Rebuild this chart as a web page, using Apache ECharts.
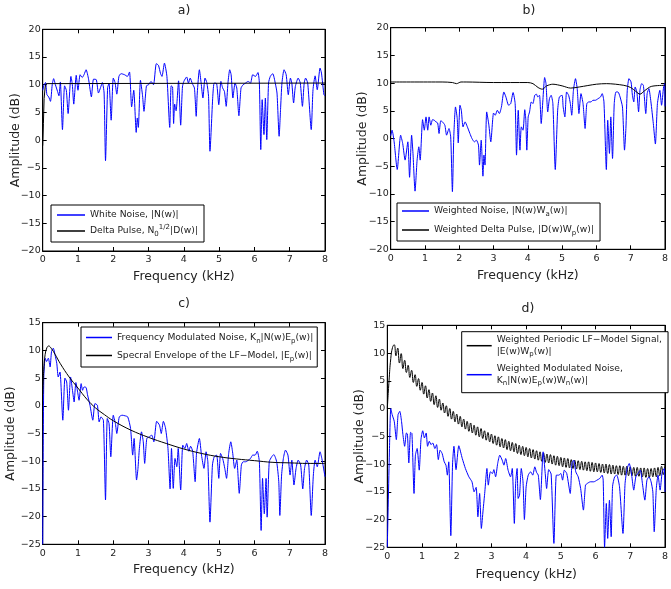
<!DOCTYPE html>
<html><head><meta charset="utf-8">
<script src="https://cdn.jsdelivr.net/npm/echarts@6/dist/echarts.min.js"></script>
<style>html,body{margin:0;padding:0;background:#fff;overflow:hidden}#c{width:671px;height:589px}</style>
</head><body><div id="c"></div>
<script>
// ---------- a) ----------
const aFreq = [0.00,0.04,0.08,0.12,0.17,0.22,0.27,0.31,0.36,0.42,0.46,0.50,0.56,0.62,0.67,0.72,0.80,0.84,0.88,0.95,1.00,1.06,1.12,1.17,1.23,1.30,1.38,1.44,1.52,1.58,1.64,1.69,1.74,1.78,1.84,1.88,1.94,2.00,2.05,2.10,2.16,2.22,2.32,2.40,2.46,2.52,2.58,2.65,2.68,2.71,2.77,2.83,2.87,2.94,3.00,3.07,3.14,3.22,3.28,3.34,3.38,3.45,3.52,3.60,3.64,3.68,3.71,3.74,3.78,3.85,3.91,3.96,4.00,4.08,4.13,4.18,4.24,4.30,4.35,4.38,4.44,4.49,4.54,4.60,4.65,4.70,4.74,4.82,4.86,4.93,4.99,5.05,5.10,5.15,5.20,5.25,5.30,5.34,5.39,5.45,5.50,5.56,5.62,5.68,5.75,5.82,5.89,5.95,6.03,6.10,6.14,6.18,6.22,6.27,6.31,6.35,6.40,6.45,6.52,6.59,6.64,6.70,6.74,6.78,6.84,6.90,6.96,7.02,7.06,7.11,7.16,7.24,7.30,7.36,7.41,7.45,7.51,7.61,7.66,7.72,7.78,7.86,7.90,7.97,8.00];
const aNoise = [9.0,10.0,10.4,8.2,7.8,7.0,10.0,11.1,10.0,8.8,8.0,10.5,1.9,9.8,9.0,4.8,11.5,10.0,6.5,11.7,9.0,11.8,11.3,11.8,12.7,11.0,7.8,11.0,10.9,8.5,9.5,10.4,8.5,-3.7,9.5,10.2,3.6,11.2,10.4,8.3,11.5,12.0,11.8,11.5,12.3,6.0,9.0,1.4,4.0,2.3,10.8,8.0,5.2,9.8,10.0,10.6,10.0,13.8,13.5,12.0,11.5,13.9,11.5,2.3,9.8,9.6,3.0,6.5,5.3,10.7,2.7,9.6,10.6,11.4,10.3,11.2,10.2,9.4,4.3,8.5,12.7,10.3,7.6,11.2,10.4,7.9,-2.0,7.9,10.3,10.2,6.4,10.6,9.4,8.8,6.1,10.3,12.7,11.8,7.6,10.3,9.4,4.4,9.4,10.0,10.3,10.6,10.3,11.8,11.5,12.2,10.3,-1.7,7.3,1.0,7.6,0.1,10.3,11.5,12.0,10.3,8.5,0.7,5.5,10.3,12.7,11.8,8.2,11.2,10.3,6.7,9.7,11.2,10.3,6.1,10.3,11.2,10.3,1.9,9.1,11.6,9.1,13.0,12.1,8.2,8.0];
const aPulseFreq = [0,0.02,0.04,0.07,0.10,0.15,8];
const aPulse = [-1.0,3.0,7.5,9.6,10.2,10.3,10.3];

// ---------- b) ----------
const bFreq = [0.00,0.04,0.10,0.19,0.29,0.35,0.42,0.50,0.55,0.61,0.65,0.71,0.77,0.82,0.86,0.93,0.98,1.03,1.08,1.12,1.17,1.22,1.27,1.32,1.37,1.41,1.46,1.51,1.58,1.63,1.70,1.75,1.80,1.84,1.89,1.94,1.97,2.02,2.06,2.11,2.17,2.23,2.31,2.37,2.44,2.50,2.56,2.59,2.64,2.69,2.72,2.75,2.80,2.86,2.92,3.00,3.05,3.11,3.17,3.23,3.30,3.36,3.44,3.50,3.57,3.63,3.67,3.72,3.77,3.81,3.86,3.91,3.94,3.97,4.01,4.05,4.10,4.15,4.20,4.25,4.29,4.34,4.39,4.44,4.49,4.53,4.58,4.63,4.68,4.73,4.80,4.87,4.92,5.00,5.03,5.08,5.13,5.19,5.24,5.28,5.33,5.39,5.44,5.49,5.55,5.61,5.67,5.72,5.78,5.84,5.90,5.97,6.05,6.12,6.17,6.22,6.29,6.33,6.38,6.42,6.47,6.52,6.57,6.63,6.69,6.76,6.82,6.86,6.90,6.95,7.01,7.05,7.09,7.13,7.18,7.23,7.27,7.32,7.37,7.44,7.48,7.53,7.59,7.66,7.72,7.78,7.85,7.90,7.96,7.99,8.00];
const bNoise = [0.5,1.5,-0.6,-5.6,0.6,-0.9,-3.9,-0.6,-7.0,0.6,-2.7,-9.5,-3.9,-1.5,-3.9,3.4,1.5,3.9,1.5,3.9,2.4,3.4,3.3,3.0,2.8,0.9,3.2,3.0,2.4,0.6,1.8,0.3,-9.6,0.3,5.7,3.6,-0.8,6.0,5.1,2.1,3.0,2.2,0.9,0.0,-0.6,-0.3,-1.2,-4.8,-0.3,-6.8,-3.0,-4.8,4.8,2.6,-0.6,4.6,4.2,5.1,4.5,5.7,8.4,7.5,6.0,6.3,8.3,6.3,-3.0,5.1,-2.1,2.1,1.5,5.2,3.5,-2.1,3.9,4.8,6.6,6.3,7.8,8.0,7.5,7.8,2.7,7.0,11.0,9.9,4.8,7.2,7.8,6.3,-5.6,5.1,7.5,7.8,5.7,3.9,8.4,7.8,6.3,4.2,8.7,10.8,9.0,4.5,8.1,6.3,1.8,6.3,6.6,6.6,6.9,6.9,7.2,7.5,8.1,6.6,-5.6,3.3,-2.7,3.9,-3.6,6.3,8.4,8.4,7.5,5.7,-2.1,1.8,8.7,10.8,10.2,7.8,6.6,9.3,8.4,4.8,8.7,9.9,9.6,4.5,8.1,9.0,6.6,2.7,-1.0,6.3,8.7,6.0,9.3,9.9,5.8];
const bPulseFreq = [0,1.5,1.8,1.92,2.05,2.2,3.0,4.0,4.15,4.3,4.42,4.55,4.73,5.0,5.25,5.5,6.0,6.3,6.8,7.0,7.15,7.27,7.4,7.6,8.0];
const bPulse = [10.2,10.2,10.1,9.9,10.2,10.2,10.1,10.1,9.9,9.2,8.9,9.5,9.8,9.5,9.1,9.3,9.8,9.9,9.6,9.2,8.5,8.0,8.6,9.4,9.6];

// ---------- c) ----------
const cFreq = [0.00,0.03,0.07,0.11,0.16,0.21,0.25,0.30,0.35,0.40,0.44,0.49,0.57,0.63,0.68,0.73,0.79,0.85,0.89,0.94,0.99,1.03,1.09,1.13,1.17,1.23,1.27,1.34,1.42,1.48,1.55,1.60,1.65,1.72,1.78,1.83,1.88,1.93,2.00,2.06,2.10,2.17,2.25,2.33,2.41,2.49,2.55,2.59,2.66,2.70,2.74,2.80,2.85,2.89,2.95,3.02,3.09,3.15,3.23,3.31,3.36,3.42,3.48,3.55,3.61,3.65,3.70,3.75,3.80,3.84,3.91,3.97,4.03,4.08,4.14,4.19,4.25,4.32,4.36,4.44,4.50,4.57,4.63,4.68,4.74,4.81,4.86,4.93,4.99,5.04,5.10,5.16,5.21,5.27,5.33,5.38,5.44,5.50,5.57,5.63,5.68,5.76,5.83,5.89,5.95,6.02,6.08,6.14,6.19,6.23,6.28,6.33,6.36,6.42,6.49,6.55,6.63,6.69,6.72,6.77,6.82,6.88,6.95,7.01,7.06,7.12,7.18,7.24,7.31,7.37,7.42,7.48,7.54,7.61,7.67,7.72,7.78,7.86,7.91,8.00];
const cNoise = [-25,5.0,8.6,8.0,8.6,7.0,9.8,10.4,9.2,7.6,5.2,6.1,-2.6,5.0,4.3,-0.8,5.2,2.5,0.7,4.2,2.5,1.0,4.0,2.8,3.4,3.3,2.0,0.1,-2.6,0.4,0.1,-2.9,-2.0,-2.6,-17.0,-2.3,-3.2,-9.2,-1.7,-3.2,-5.0,-2.0,-1.7,-1.8,-2.0,-4.1,-8.9,-5.9,-13.4,-11.3,-7.7,-4.7,-6.5,-10.4,-5.9,-5.6,-5.3,-6.5,-2.8,-3.5,-5.0,-2.8,-4.0,-7.7,-15.0,-7.7,-14.9,-9.5,-11.0,-7.7,-15.2,-7.1,-7.7,-6.8,-8.2,-7.3,-8.2,-13.7,-8.5,-5.9,-8.9,-11.3,-8.3,-10.1,-21.0,-10.7,-9.2,-8.9,-13.1,-8.6,-9.5,-11.3,-13.1,-8.6,-6.5,-8.3,-11.3,-9.8,-15.8,-10.7,-10.1,-10.1,-9.8,-9.5,-8.9,-8.9,-8.2,-10.1,-22.5,-13.1,-19.5,-13.1,-20.1,-10.1,-9.2,-8.8,-10.1,-13.7,-19.8,-12.5,-9.5,-8.0,-8.9,-12.5,-9.8,-14.3,-11.3,-9.8,-10.7,-15.0,-11.3,-9.8,-10.7,-19.8,-12.5,-9.8,-11.0,-8.3,-9.5,-12.8];
const cEnvFreq = [0,0.03,0.07,0.12,0.17,0.25,0.35,0.5,0.75,1.0,1.25,1.5,1.75,2.0,2.5,3.0,3.5,4.0,4.5,5.0,5.5,6.0,6.5,7.0,7.5,8.0];
const cEnv = [2.0,6.5,9.3,10.5,10.8,10.3,9.3,7.6,5.2,3.2,1.2,-0.4,-1.6,-2.7,-4.4,-5.7,-6.8,-7.8,-8.6,-9.2,-9.6,-9.9,-10.2,-10.3,-10.4,-10.4];

// ---------- d) ----------
const dSigHead = [0.0,5.0,9.0,11.0];
const dSigTail = [11.5,9.5,10.9,8.2,9.9,7.2,8.7,6.5,7.8,5.6,6.9,4.7,6.1,4.0,5.4,3.3,4.7,2.6,4.1,1.9,3.4,1.3,2.8,0.7,2.3,0.2,1.7,-0.3,1.0,-0.8,0.5,-1.4,0.0,-1.9,-0.5,-2.4,-1.0,-2.8,-1.4,-3.3,-1.9,-3.7,-2.3,-4.1,-2.6,-4.4,-3.0,-4.8,-3.3,-5.1,-3.6,-5.4,-4.0,-5.7,-4.3,-6.0,-4.6,-6.3,-4.9,-6.6,-5.1,-6.9,-5.4,-7.1,-5.6,-7.4,-5.9,-7.6,-6.1,-7.8,-6.3,-8.1,-6.6,-8.3,-6.8,-8.5,-7.0,-8.7,-7.2,-8.9,-7.4,-9.1,-7.6,-9.3,-7.8,-9.5,-8.0,-9.7,-8.2,-9.8,-8.3,-10.0,-8.5,-10.2,-8.6,-10.3,-8.8,-10.5,-8.9,-10.6,-9.0,-10.7,-9.2,-10.8,-9.3,-10.9,-9.4,-11.0,-9.5,-11.1,-9.6,-11.2,-9.6,-11.3,-9.7,-11.4,-9.8,-11.4,-9.9,-11.5,-10.0,-11.6,-10.0,-11.7,-10.1,-11.8,-10.2,-11.8,-10.3,-11.9,-10.3,-12.0,-10.4,-12.0,-10.4,-12.1,-10.5,-12.1,-10.6,-12.2,-10.6,-12.2,-10.7,-12.3,-10.7,-12.4,-10.8,-12.4,-10.8,-12.3,-10.7,-12.3,-10.6,-12.1,-10.4,-11.9,-10.2];
const dSig = dSigHead.concat(dSigTail);
const dSigFreq = dSig.map((_, i) => +(i * 0.05).toFixed(2));
const dNoiseFreq = [0.00,0.06,0.10,0.14,0.20,0.26,0.31,0.36,0.41,0.45,0.50,0.55,0.58,0.62,0.67,0.71,0.77,0.81,0.86,0.92,0.97,1.02,1.07,1.12,1.16,1.21,1.26,1.31,1.37,1.42,1.47,1.52,1.58,1.64,1.69,1.73,1.77,1.83,1.88,1.92,1.98,2.06,2.16,2.25,2.35,2.44,2.50,2.56,2.61,2.66,2.71,2.76,2.81,2.87,2.91,2.97,3.03,3.07,3.12,3.18,3.24,3.31,3.36,3.41,3.48,3.55,3.60,3.66,3.70,3.74,3.77,3.81,3.86,3.91,3.95,4.00,4.06,4.13,4.19,4.25,4.30,4.35,4.41,4.49,4.55,4.59,4.65,4.72,4.80,4.87,4.94,5.00,5.05,5.10,5.17,5.27,5.32,5.37,5.43,5.50,5.57,5.65,5.71,5.76,5.85,5.95,6.04,6.12,6.19,6.22,6.26,6.31,6.35,6.40,6.45,6.49,6.55,6.61,6.69,6.79,6.85,6.91,6.97,7.04,7.10,7.16,7.22,7.29,7.35,7.42,7.48,7.54,7.60,7.65,7.69,7.75,7.80,7.86,7.92,7.98,8.00];
const dNoise = [-25,-8.0,0.0,-1.1,-2.3,-5.6,-1.1,-0.5,-2.3,-4.7,-6.8,-4.4,-4.6,-9.8,-4.3,-4.5,-15.3,-8.4,-7.2,-11.1,-5.6,-4.0,-5.3,-4.4,-6.8,-5.9,-6.5,-6.2,-7.2,-6.5,-9.2,-7.5,-8.1,-9.6,-10.2,-12.0,-9.6,-22.9,-10.0,-6.8,-11.0,-6.7,-9.0,-10.8,-12.3,-13.2,-15.0,-14.2,-19.5,-15.3,-21.6,-18.3,-15.0,-10.8,-13.8,-11.4,-11.7,-11.0,-12.3,-9.9,-8.4,-9.3,-10.2,-9.0,-11.1,-12.3,-10.8,-20.7,-13.2,-10.8,-16.2,-15.6,-10.8,-13.2,-20.0,-14.1,-12.0,-11.4,-12.0,-10.5,-11.5,-12.0,-16.4,-7.8,-11.7,-14.4,-11.0,-11.8,-24.3,-12.0,-12.0,-11.7,-12.9,-11.1,-11.7,-15.3,-9.9,-9.3,-11.4,-12.3,-14.4,-18.3,-13.8,-13.5,-13.2,-13.2,-12.9,-12.6,-12.0,-12.9,-25.0,-17.1,-23.4,-16.5,-23.1,-14.0,-12.3,-12.0,-14.1,-22.5,-13.5,-10.8,-9.9,-12.0,-14.7,-12.3,-11.7,-11.1,-13.5,-16.5,-12.9,-12.3,-13.2,-15.0,-22.2,-14.4,-12.0,-14.7,-11.4,-10.8,-15.0];

const xTicks = [0,1,2,3,4,5,6,7,8];

// ---------- helpers ----------
const zip = (xs, ys) => xs.map((x, i) => [x, ys[i]]);
const fmt = v => v < 0 ? '\u2212' + Math.abs(v) : String(v);
const FONT = 'DejaVu Sans';
const BLUE = '#0000ff', BLACK = '#000000';

const grids = [
  {left: 42.7, top: 29.3, width: 282.3, height: 221.7},
  {left: 390.7, top: 27.7, width: 278.5, height: 221.6},
  {left: 42.7, top: 322.7, width: 282.3, height: 221.6},
  {left: 387.3, top: 325.3, width: 282, height: 222}
];
const yRanges = [[-20,20],[-20,20],[-25,15],[-25,15]];
const yNameGaps = [20, 21, 25, 21];
const xNameGaps = [19, 20, 19, 21];

const xAxes = [], yAxes = [];
grids.forEach((g, i) => {
  const tick = {show: true, inside: true, length: 4, lineStyle: {color: '#000', width: 1}};
  xAxes.push({
    type: 'value', gridIndex: i, min: 0, max: 8, interval: 1, position: 'bottom',
    axisLine: {show: true, onZero: false, lineStyle: {color: '#000', width: 1}},
    axisTick: tick, splitLine: {show: false},
    axisLabel: {fontSize: 9.5, color: '#222', margin: 4, fontFamily: FONT, formatter: fmt},
    name: 'Frequency (kHz)', nameLocation: 'middle', nameGap: xNameGaps[i], nameMoveOverlap: false,
    nameTextStyle: {fontSize: 12.5, color: '#222', fontFamily: FONT}
  });
  xAxes.push({
    type: 'value', gridIndex: i, min: 0, max: 8, interval: 1, position: 'top',
    axisLine: {show: true, onZero: false, lineStyle: {color: '#000', width: 1}},
    axisTick: tick, splitLine: {show: false}, axisLabel: {show: false}
  });
  yAxes.push({
    type: 'value', gridIndex: i, min: yRanges[i][0], max: yRanges[i][1], interval: 5, position: 'left',
    axisLine: {show: true, onZero: false, lineStyle: {color: '#000', width: 1}},
    axisTick: tick, splitLine: {show: false},
    axisLabel: {fontSize: 9.5, color: '#222', margin: 2, fontFamily: FONT, formatter: fmt},
    name: 'Amplitude (dB)', nameLocation: 'middle', nameGap: yNameGaps[i], nameRotate: 90, nameMoveOverlap: false,
    nameTextStyle: {fontSize: 12.5, color: '#222', fontFamily: FONT}
  });
  yAxes.push({
    type: 'value', gridIndex: i, min: yRanges[i][0], max: yRanges[i][1], interval: 5, position: 'right',
    axisLine: {show: true, onZero: false, lineStyle: {color: '#000', width: 1}},
    axisTick: tick, splitLine: {show: false}, axisLabel: {show: false}
  });
});

function line(name, data, color, idx, z, smooth) {
  return {
    name, type: 'line', data, xAxisIndex: idx * 2, yAxisIndex: idx * 2,
    showSymbol: false, symbol: 'none', smooth: smooth, z: z, animation: false,
    lineStyle: {color, width: 1}, itemStyle: {color}
  };
}

const N = {
  aN: 'White Noise, |N(w)|', aP: 'Delta Pulse, N0 1/2 |D(w)|',
  bN: 'Weighted Noise, |N(w)Wa(w)|', bP: 'Weighted Delta Pulse, |D(w)Wp(w)|',
  cN: 'Frequency Modulated Noise, Kn|N(w)Ep(w)|', cE: 'Specral Envelope of the LF-Model, |Ep(w)|',
  dS: 'Weighted Periodic LF-Model Signal, |E(w)Wp(w)|', dN: 'Weighted Modulated Noise, Kn|N(w)Ep(w)Wn(w)|'
};
const RICH = {
  [N.aN]: 'White Noise, |N(w)|',
  [N.aP]: 'Delta Pulse, N{sub|0}{sup|1/2}|D(w)|',
  [N.bN]: 'Weighted Noise, |N(w)W{sub|a}(w)|',
  [N.bP]: 'Weighted Delta Pulse, |D(w)W{sub|p}(w)|',
  [N.cN]: 'Frequency Modulated Noise, K{sub|n}|N(w)E{sub|p}(w)|',
  [N.cE]: 'Specral Envelope of the LF\u2212Model, |E{sub|p}(w)|',
  [N.dS]: 'Weighted Periodic LF\u2212Model Signal,\n|E(w)W{sub|p}(w)|',
  [N.dN]: 'Weighted Modulated Noise,\nK{sub|n}|N(w)E{sub|p}(w)W{sub|n}(w)|'
};
function legend(data, left, top, padding, itemGap, itemWidth, lh) {
  return {
    data, left, top, orient: 'vertical', padding, itemGap, itemWidth, itemHeight: 1.5,
    icon: 'rect', selectedMode: false,
    backgroundColor: '#fff', borderColor: '#000', borderWidth: 1, borderRadius: 0,
    formatter: n => RICH[n],
    textStyle: {
      fontSize: 9.2, color: '#222', fontFamily: FONT, lineHeight: lh,
      rich: {
        sub: {fontSize: 7, fontFamily: FONT, color: '#222', verticalAlign: 'bottom', lineHeight: 7},
        sup: {fontSize: 7, fontFamily: FONT, color: '#222', verticalAlign: 'top', lineHeight: 7}
      }
    }
  };
}

const titles = [['a)', 184, 4], ['b)', 529, 4], ['c)', 184, 297], ['d)', 528, 302]].map(t => ({
  text: t[0], left: t[1], top: t[2], textAlign: 'center', padding: 0,
  textStyle: {fontSize: 12.5, fontWeight: 'normal', color: '#222', fontFamily: FONT}
}));

const option = {
  animation: false,
  backgroundColor: '#fff',
  title: titles,
  grid: grids.map(g => Object.assign({containLabel: false, show: true, borderColor: '#000', borderWidth: 1, backgroundColor: '#fff'}, g)),
  xAxis: xAxes,
  yAxis: yAxes,
  legend: [
    legend([N.aN, N.aP], 51, 205, [3, 6, 4, 6], 2, 28, 14),
    legend([N.bN, N.bP], 397, 203, [1, 6, 4, 5], 5, 27, 14),
    legend([N.cN, N.cE], 81, 327, [3, 4, 4, 5], 3, 26, 15),
    legend([N.dS, N.dN], 461.7, 331.7, [2, 6, 6, 5], 5, 25, 12)
  ],
  series: [
    line(N.aN, zip(aFreq, aNoise), BLUE, 0, 2, 0.2),
    line(N.aP, zip(aPulseFreq, aPulse), BLACK, 0, 3, false),
    line(N.bN, zip(bFreq, bNoise), BLUE, 1, 2, 0.2),
    line(N.bP, zip(bPulseFreq, bPulse), BLACK, 1, 3, 0.3),
    line(N.cN, zip(cFreq, cNoise), BLUE, 2, 2, 0.2),
    line(N.cE, zip(cEnvFreq, cEnv), BLACK, 2, 3, 0.4),
    line(N.dS, zip(dSigFreq, dSig), BLACK, 3, 2, 0.5),
    line(N.dN, zip(dNoiseFreq, dNoise), BLUE, 3, 3, 0.2)
  ]
};
const chart = echarts.init(document.getElementById('c'), null, {renderer: 'canvas'});
chart.setOption(option);
</script></body></html>
